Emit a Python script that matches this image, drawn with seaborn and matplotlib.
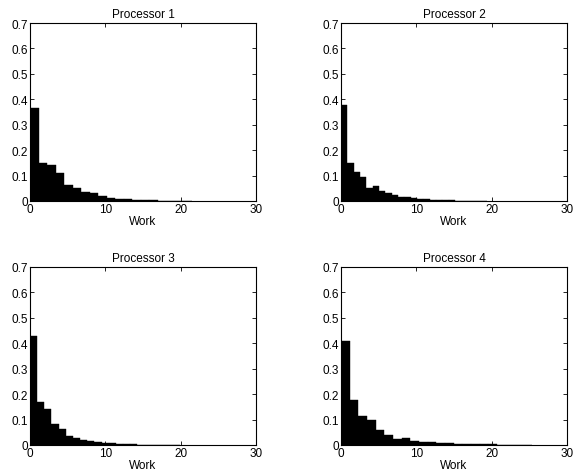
import numpy as np
import pandas as pd
import matplotlib
matplotlib.use("Agg")
import matplotlib.pyplot as plt
import seaborn as sns

titles = ["Processor 1", "Processor 2", "Processor 3", "Processor 4"]
bin_widths = [1.13, 0.84, 0.95, 1.15]
p1 = [0.366, 0.148, 0.143, 0.109, 0.064, 0.050, 0.034, 0.030, 0.018, 0.013,
      0.009, 0.006, 0.004, 0.003, 0.002, 0.0015, 0.001, 0.0008, 0.0005]
p2 = [0.378, 0.148, 0.114, 0.093, 0.052, 0.058, 0.041, 0.030, 0.024, 0.015,
      0.017, 0.011, 0.008, 0.006, 0.005, 0.004, 0.003, 0.002, 0.0015, 0.001,
      0.001, 0.0007, 0.0005]
p3 = [0.430, 0.169, 0.142, 0.082, 0.062, 0.037, 0.028, 0.019, 0.017, 0.011,
      0.008, 0.006, 0.004, 0.003, 0.002, 0.0015, 0.001, 0.0008, 0.0005, 0.0004,
      0.0003]
p4 = [0.408, 0.178, 0.116, 0.100, 0.059, 0.038, 0.025, 0.028, 0.016, 0.012,
      0.010, 0.008, 0.006, 0.005, 0.004, 0.003, 0.003, 0.002, 0.0015, 0.001,
      0.001, 0.0005]
heights = [p1, p2, p3, p4]
x_ticks = [0, 10, 20, 30]
y_ticks = [0, 0.1, 0.2, 0.3, 0.4, 0.5, 0.6, 0.7]
y_ticklabels = ["0", "0.1", "0.2", "0.3", "0.4", "0.5", "0.6", "0.7"]
xlabel = "Work"

sns.set_style("white")
plt.rcParams["font.family"] = ["Liberation Sans", "DejaVu Sans"]
plt.rcParams.update({"text.color": "black", "axes.labelcolor": "black",
                     "xtick.color": "black", "ytick.color": "black"})

fig = plt.figure(figsize=(5.74, 4.77), dpi=100)
W, H = 574, 477
boxes = [(30, 24, 256, 202), (341, 24, 567, 202), (30, 268, 256, 446), (341, 268, 567, 446)]
fs = 8.5

for i, (l, t, r, b) in enumerate(boxes):
    ax = fig.add_axes([l / W, 1 - b / H, (r - l) / W, (b - t) / H])
    w = bin_widths[i]
    h = heights[i]
    n = len(h)
    centers = (np.arange(n) + 0.5) * w
    df = pd.DataFrame({"work": centers, "freq": h})
    sns.histplot(data=df, x="work", weights="freq", binwidth=w, binrange=(0, n * w),
                 color="black", edgecolor="black", alpha=1, linewidth=0.3, ax=ax)
    ax.set_xlim(0, 30)
    ax.set_ylim(0, 0.7)
    ax.set_xticks(x_ticks)
    ax.set_yticks(y_ticks)
    ax.set_yticklabels(y_ticklabels)
    ax.set_ylabel("")
    ax.set_xlabel(xlabel, fontsize=fs, labelpad=0, color="black")
    ax.set_title(titles[i], fontsize=fs, pad=4, color="black")
    ax.tick_params(direction="in", length=3, width=0.6, labelsize=fs, pad=1.5,
                   colors="black", top=True, right=True, bottom=True, left=True)
    for s in ax.spines.values():
        s.set_visible(True)
        s.set_linewidth(0.8)
        s.set_color("black")

fig.savefig("out.png", dpi=100, facecolor="white")
